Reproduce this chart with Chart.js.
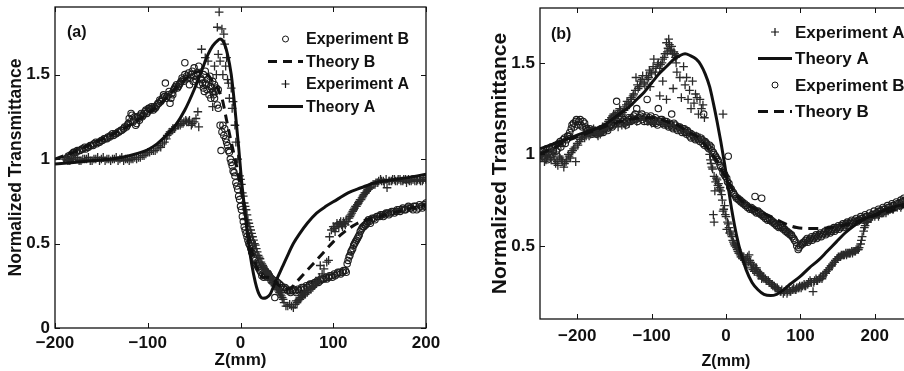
<!DOCTYPE html>
<html><head><meta charset="utf-8">
<script src="https://cdn.jsdelivr.net/npm/chart.js@4/dist/chart.umd.min.js"></script>
<style>
html,body{margin:0;padding:0;background:#fff;width:904px;height:371px;overflow:hidden;position:relative}
canvas{position:absolute;top:0}
#ca{left:0}
#cb{left:460px}
</style></head><body>
<canvas id="ca" width="440" height="371"></canvas>
<canvas id="cb" width="460" height="371"></canvas>
<script>
// ---------- Panel (a) ----------
const xTicksA = [-200, -100, 0, 100, 200];
const yTicksA = [0, 0.5, 1, 1.5];
const legendA = ['Experiment B', 'Theory B', 'Experiment A', 'Theory A'];

const expB_a = [[-188,1.0],[-185,1.02],[-182,1.03],[-179,1.04],[-176,1.05],[-173,1.05],[-170,1.06],[-167,1.06],[-164,1.07],[-161,1.08],[-158,1.09],[-155,1.09],[-152,1.1],[-149,1.11],[-146,1.12],[-143,1.13],[-140,1.14],[-137,1.14],[-134,1.15],[-131,1.16],[-128,1.17],[-125,1.19],[-122,1.2],[-120,1.24],[-118,1.27],[-116,1.22],[-114,1.25],[-112,1.21],[-110,1.24],[-108,1.26],[-106,1.25],[-104,1.27],[-102,1.29],[-100,1.28],[-98,1.3],[-96,1.31],[-94,1.29],[-92,1.3],[-90,1.32],[-88,1.33],[-86,1.34],[-84,1.36],[-82,1.37],[-81,1.45],[-80,1.36],[-78,1.38],[-76,1.33],[-74,1.39],[-72,1.41],[-70,1.43],[-68,1.42],[-66,1.44],[-64,1.46],[-62,1.47],[-60,1.57],[-60,1.5],[-58,1.49],[-56,1.51],[-55,1.44],[-54,1.48],[-52,1.52],[-50,1.49],[-50,1.54],[-48,1.47],[-46,1.5],[-45,1.55],[-44,1.44],[-42,1.47],[-40,1.42],[-40,1.5],[-38,1.45],[-38,1.52],[-36,1.41],[-35,1.47],[-34,1.38],[-33,1.49],[-32,1.43],[-32,1.36],[-30,1.4],[-30,1.46],[-28,1.36],[-28,1.44],[-26,1.42],[-25,1.32],[-24,1.3],[-24,1.41],[-22,1.2],[-21,1.05],[-20,1.16],[-18,1.14],[-16,1.12],[-14,1.08],[-12,1.04],[-10,0.98],[-8,0.93],[-6,0.9],[-4,0.84],[-2,0.78],[0,0.72],[2,0.66],[4,0.6],[6,0.56],[8,0.52],[10,0.49],[12,0.45],[14,0.42],[16,0.4],[18,0.37],[20,0.35],[22,0.33],[24,0.32],[26,0.31],[28,0.33],[30,0.32],[32,0.3],[34,0.29],[37,0.18],[38,0.28],[40,0.27],[42,0.26],[44,0.25],[46,0.24],[48,0.24],[50,0.23],[53,0.22],[56,0.22],[59,0.22],[62,0.23],[65,0.23],[68,0.24],[71,0.25],[74,0.25],[77,0.26],[80,0.27],[83,0.28],[86,0.28],[89,0.29],[92,0.3],[95,0.3],[98,0.31],[101,0.32],[104,0.32],[107,0.33],[110,0.33],[113,0.34],[115,0.38],[117,0.42],[119,0.45],[121,0.47],[123,0.5],[125,0.52],[127,0.54],[129,0.57],[131,0.59],[133,0.6],[135,0.61],[137,0.63],[139,0.63],[141,0.64],[144,0.65],[147,0.66],[150,0.66],[153,0.67],[156,0.67],[159,0.68],[162,0.68],[165,0.69],[168,0.69],[171,0.7],[174,0.7],[177,0.7],[180,0.71],[183,0.71],[186,0.7],[189,0.72],[192,0.71],[195,0.72],[198,0.73],[200,0.74]];
const expB_a2 = [[-186,1.01],[-183,1.02],[-180,1.04],[-177,1.04],[-174,1.05],[-171,1.06],[-168,1.07],[-165,1.07],[-162,1.08],[-159,1.08],[-156,1.1],[-153,1.1],[-150,1.11],[-147,1.12],[-144,1.12],[-141,1.13],[-138,1.15],[-135,1.15],[-132,1.16],[-129,1.17],[-126,1.18],[-123,1.19],[-121,1.21],[-119,1.22],[-117,1.26],[-115,1.23],[-113,1.2],[-111,1.25],[-109,1.23],[-107,1.27],[-105,1.26],[-103,1.28],[-101,1.27],[-99,1.3],[-97,1.29],[-95,1.3],[-93,1.31],[-91,1.31],[-89,1.33],[-87,1.35],[-85,1.35],[-83,1.38],[-79,1.37],[-77,1.4],[-75,1.36],[-73,1.38],[-71,1.42],[-69,1.44],[-67,1.43],[-65,1.45],[-63,1.48],[-61,1.46],[-57,1.48],[-53,1.5],[-51,1.46],[-47,1.51],[-43,1.48],[-41,1.45],[-39,1.4],[-37,1.44],[-31,1.42],[-29,1.38],[-27,1.4],[-19,1.2],[-17,1.18],[-15,1.1],[-13,1.05],[-11,1.0],[-9,0.96],[-7,0.92],[-5,0.86],[-3,0.82],[-1,0.76],[1,0.7],[3,0.63],[5,0.58],[7,0.54],[9,0.5],[11,0.47],[13,0.44],[15,0.41],[17,0.38],[19,0.36],[21,0.34],[23,0.31],[25,0.3],[27,0.32],[29,0.3],[31,0.31],[33,0.28],[43,0.24],[47,0.23],[51,0.22],[54,0.21],[57,0.23],[60,0.21],[63,0.22],[66,0.24],[69,0.23],[72,0.24],[75,0.26],[78,0.25],[81,0.27],[84,0.27],[87,0.29],[90,0.29],[93,0.29],[96,0.31],[99,0.3],[102,0.31],[105,0.33],[108,0.32],[111,0.34],[114,0.33],[116,0.4],[118,0.43],[120,0.46],[122,0.49],[124,0.51],[126,0.53],[128,0.55],[130,0.58],[132,0.6],[134,0.61],[136,0.62],[138,0.64],[140,0.62],[142,0.65],[145,0.64],[148,0.66],[151,0.67],[154,0.66],[157,0.68],[160,0.67],[163,0.69],[166,0.68],[169,0.7],[172,0.69],[175,0.71],[178,0.7],[181,0.72],[184,0.71],[187,0.72],[190,0.7],[193,0.73],[196,0.71],[199,0.72]];

const theoryB_a = [[-200,1.0],[-190,1.02],[-180,1.04],[-160,1.09],[-140,1.14],[-120,1.2],[-100,1.27],[-80,1.36],[-70,1.42],[-60,1.47],[-50,1.51],[-40,1.52],[-30,1.46],[-25,1.42],[-20,1.36],[-15,1.23],[-10,1.1],[-5,0.98],[0,0.84],[5,0.68],[10,0.52],[15,0.4],[20,0.33],[25,0.3],[30,0.3],[35,0.29],[40,0.26],[45,0.24],[50,0.23],[55,0.24],[60,0.27],[70,0.33],[80,0.39],[90,0.45],[100,0.51],[110,0.56],[120,0.6],[130,0.63],[140,0.645],[150,0.66],[170,0.69],[185,0.71],[200,0.73]];

const expA_a = [[-190,1.0],[-186,0.99],[-182,1.0],[-178,1.0],[-174,0.99],[-170,1.0],[-166,1.0],[-162,0.99],[-158,1.0],[-154,1.01],[-150,1.0],[-146,0.99],[-142,1.0],[-138,1.0],[-134,1.01],[-130,1.0],[-126,0.99],[-122,1.0],[-118,1.0],[-114,1.01],[-110,1.01],[-106,1.02],[-102,1.03],[-98,1.04],[-94,1.05],[-90,1.06],[-86,1.07],[-82,1.1],[-79,1.14],[-76,1.16],[-73,1.18],[-70,1.19],[-67,1.2],[-64,1.21],[-61,1.22],[-58,1.22],[-55,1.23],[-52,1.21],[-50,1.22],[-48,1.24],[-46,1.28],[-45,1.19],[-42,1.65],[-38,1.6],[-35,1.58],[-30,1.31],[-28,1.55],[-26,1.5],[-25,1.78],[-24,1.62],[-23,1.87],[-22,1.58],[-20,1.77],[-19,1.5],[-18,1.74],[-17,1.68],[-16,1.55],[-15,1.6],[-14,1.47],[-13,1.45],[-12,1.36],[-10,1.42],[-9,1.3],[-8,1.34],[-6,1.2],[-5,1.1],[-3,1.0],[-1,0.9],[1,0.85],[3,0.78],[5,0.72],[7,0.67],[9,0.62],[11,0.58],[13,0.54],[15,0.5],[17,0.47],[19,0.43],[21,0.41],[23,0.38],[25,0.36],[27,0.34],[29,0.33],[31,0.31],[33,0.29],[35,0.27],[37,0.25],[39,0.24],[41,0.22],[43,0.2],[45,0.18],[47,0.15],[49,0.13],[51,0.13],[53,0.14],[55,0.13],[57,0.12],[59,0.14],[61,0.15],[63,0.17],[65,0.18],[67,0.19],[69,0.2],[72,0.21],[75,0.23],[78,0.24],[81,0.26],[84,0.28],[86,0.37],[88,0.32],[90,0.35],[93,0.39],[95,0.4],[96,0.54],[98,0.58],[100,0.6],[102,0.57],[104,0.62],[106,0.6],[108,0.63],[110,0.6],[112,0.62],[114,0.64],[116,0.63],[118,0.66],[120,0.68],[122,0.7],[124,0.72],[126,0.73],[128,0.75],[130,0.76],[132,0.78],[134,0.8],[136,0.81],[138,0.82],[140,0.83],[143,0.85],[146,0.86],[149,0.87],[152,0.87],[155,0.86],[158,0.83],[161,0.87],[164,0.88],[167,0.87],[170,0.88],[173,0.87],[176,0.88],[179,0.86],[182,0.87],[185,0.88],[188,0.87],[191,0.88],[194,0.87],[197,0.88],[200,0.88]];
const expA_a2 = [[-188,1.01],[-184,0.99],[-180,1.0],[-176,1.01],[-172,0.99],[-168,1.0],[-164,1.01],[-160,0.99],[-156,1.0],[-152,0.99],[-148,1.01],[-144,1.0],[-140,0.99],[-136,1.0],[-132,0.99],[-128,1.01],[-124,1.0],[-120,0.99],[-116,1.0],[-112,1.0],[-108,1.01],[-104,1.02],[-100,1.04],[-96,1.05],[-92,1.05],[-88,1.08],[-84,1.09],[-80,1.12],[-77,1.15],[-74,1.17],[-71,1.18],[-68,1.2],[-65,1.2],[-62,1.21],[-59,1.23],[-56,1.22],[-53,1.2],[0,0.88],[2,0.8],[4,0.74],[6,0.7],[8,0.64],[10,0.6],[12,0.56],[14,0.52],[16,0.49],[18,0.45],[20,0.42],[22,0.39],[24,0.37],[26,0.35],[28,0.34],[30,0.32],[32,0.3],[34,0.28],[36,0.26],[38,0.25],[40,0.23],[42,0.21],[44,0.19],[46,0.17],[60,0.16],[62,0.16],[64,0.17],[66,0.19],[68,0.2],[70,0.2],[73,0.22],[76,0.23],[79,0.25],[82,0.27],[85,0.3],[101,0.59],[103,0.6],[105,0.61],[107,0.62],[109,0.61],[111,0.63],[113,0.61],[117,0.65],[119,0.67],[121,0.69],[123,0.71],[125,0.72],[127,0.74],[129,0.76],[131,0.77],[133,0.79],[135,0.8],[137,0.82],[139,0.83],[141,0.84],[145,0.85],[148,0.86],[151,0.88],[154,0.87],[157,0.88],[160,0.87],[163,0.87],[166,0.88],[169,0.87],[172,0.88],[175,0.87],[178,0.88],[181,0.88],[184,0.87],[187,0.88],[190,0.87],[193,0.88],[196,0.87],[199,0.89]];

const theoryA_a = [[-200,0.97],[-180,0.98],[-160,0.99],[-140,1.0],[-120,1.02],[-110,1.035],[-100,1.055],[-90,1.09],[-80,1.14],[-70,1.2],[-60,1.29],[-50,1.41],[-40,1.55],[-35,1.62],[-30,1.67],[-25,1.70],[-22,1.71],[-18,1.69],[-14,1.62],[-10,1.5],[-6,1.3],[-2,1.07],[1,0.88],[5,0.68],[8,0.53],[12,0.38],[16,0.27],[20,0.2],[24,0.176],[28,0.18],[32,0.2],[36,0.25],[40,0.3],[45,0.36],[50,0.42],[57,0.5],[64,0.56],[72,0.62],[82,0.68],[92,0.72],[104,0.76],[116,0.8],[130,0.83],[145,0.86],[160,0.875],[180,0.89],[200,0.91]];

// ---------- Panel (b) ----------
const xTicksB = [-200, -100, 0, 100, 200];
const yTicksB = [0.5, 1, 1.5];
const legendB = ['Experiment A', 'Theory A', 'Experiment B', 'Theory B'];

const expA_b = [[-250,0.98],[-247,1.0],[-244,0.96],[-241,0.99],[-238,1.02],[-235,0.97],[-232,1.0],[-229,0.95],[-226,0.94],[-223,0.98],[-220,0.96],[-217,0.95],[-214,0.97],[-211,0.99],[-208,1.01],[-205,1.03],[-202,0.96],[-199,1.05],[-196,1.08],[-193,1.1],[-190,1.09],[-187,1.12],[-184,1.1],[-181,1.13],[-178,1.14],[-175,1.12],[-172,1.1],[-169,1.11],[-166,1.15],[-163,1.14],[-160,1.16],[-157,1.19],[-154,1.2],[-151,1.22],[-148,1.21],[-145,1.23],[-142,1.24],[-139,1.23],[-136,1.26],[-133,1.29],[-130,1.27],[-127,1.31],[-124,1.33],[-121,1.42],[-118,1.36],[-115,1.4],[-112,1.43],[-109,1.38],[-106,1.41],[-103,1.46],[-100,1.44],[-97,1.52],[-94,1.47],[-91,1.5],[-88,1.49],[-85,1.52],[-82,1.55],[-80,1.61],[-78,1.58],[-76,1.6],[-74,1.57],[-72,1.55],[-70,1.56],[-68,1.53],[-66,1.54],[-102,1.37],[-89,1.32],[-85,1.4],[-80,1.3],[-71,1.36],[-66,1.45],[-62,1.42],[-60,1.31],[-57,1.48],[-55,1.38],[-53,1.42],[-51,1.3],[-49,1.35],[-47,1.25],[-45,1.4],[-43,1.28],[-41,1.33],[-39,1.31],[-37,1.22],[-35,1.3],[-33,1.25],[-31,1.27],[-29,1.2],[-4,1.22],[-140,1.16],[-130,1.17],[-120,1.18],[-110,1.2],[-100,1.17],[-90,1.18],[-80,1.16],[-70,1.16],[-60,1.14],[-50,1.12],[-40,1.1],[-30,1.08],[-25,1.05],[-22,1.0],[-20,0.95],[-18,0.92],[-16,0.88],[-14,0.85],[-17,0.67],[-16,0.63],[-15,0.8],[-12,0.86],[-10,0.84],[-8,0.82],[-6,0.78],[-4,0.69],[-2,0.72],[0,0.66],[1,0.59],[3,0.62],[5,0.57],[7,0.56],[9,0.53],[11,0.51],[13,0.5],[15,0.48],[17,0.46],[19,0.45],[21,0.44],[23,0.43],[25,0.42],[27,0.43],[29,0.44],[31,0.45],[33,0.41],[35,0.4],[37,0.39],[39,0.38],[41,0.38],[43,0.36],[45,0.35],[47,0.34],[49,0.33],[51,0.32],[53,0.32],[55,0.31],[57,0.31],[59,0.3],[61,0.29],[63,0.28],[65,0.28],[67,0.27],[69,0.27],[71,0.26],[73,0.25],[75,0.26],[77,0.24],[79,0.25],[81,0.26],[83,0.25],[85,0.26],[87,0.25],[89,0.26],[91,0.27],[93,0.26],[95,0.27],[97,0.27],[99,0.28],[101,0.27],[103,0.28],[105,0.29],[107,0.28],[109,0.29],[111,0.3],[113,0.31],[115,0.3],[117,0.25],[119,0.31],[121,0.32],[123,0.31],[125,0.32],[127,0.33],[129,0.32],[131,0.34],[133,0.35],[135,0.36],[137,0.37],[139,0.38],[141,0.39],[143,0.4],[145,0.41],[147,0.42],[149,0.43],[151,0.44],[153,0.44],[155,0.45],[157,0.45],[159,0.45],[161,0.46],[163,0.46],[165,0.46],[167,0.46],[169,0.47],[171,0.47],[173,0.47],[175,0.48],[177,0.48],[179,0.49],[181,0.51],[183,0.55],[185,0.58],[187,0.61],[189,0.63],[191,0.64],[194,0.65],[197,0.66],[200,0.66],[203,0.67],[206,0.67],[209,0.68],[212,0.68],[215,0.69],[218,0.69],[221,0.7],[224,0.7],[227,0.71],[230,0.71],[233,0.72],[236,0.72],[239,0.73],[242,0.72],[245,0.73],[248,0.74],[250,0.73]];
const expA_b2 = [[-248,0.99],[-245,1.01],[-242,0.97],[-239,1.0],[-236,0.98],[-233,1.01],[-230,0.97],[-227,0.96],[-224,0.99],[-221,0.97],[-218,0.93],[-215,0.96],[-212,1.0],[-209,0.98],[-206,1.02],[-203,1.04],[-200,1.06],[-197,1.07],[-194,1.09],[-191,1.11],[-188,1.1],[-185,1.12],[-182,1.11],[-179,1.13],[-176,1.13],[-173,1.11],[-170,1.12],[-167,1.13],[-164,1.15],[-161,1.15],[-158,1.18],[-155,1.19],[-152,1.21],[-149,1.22],[-146,1.22],[-143,1.25],[-140,1.22],[-137,1.24],[-134,1.27],[-131,1.28],[-128,1.3],[-125,1.32],[-122,1.35],[-119,1.38],[-116,1.37],[-113,1.41],[-110,1.39],[-107,1.43],[-104,1.42],[-101,1.45],[-98,1.48],[-95,1.45],[-92,1.49],[-89,1.47],[-86,1.5],[-83,1.53],[-79,1.56],[-77,1.63],[-75,1.57],[-73,1.59],[-69,1.55],[-67,1.5],[-145,1.15],[-135,1.16],[-125,1.19],[-115,1.19],[-105,1.18],[-95,1.18],[-85,1.17],[-75,1.16],[-65,1.15],[-55,1.13],[-45,1.11],[-35,1.09],[-27,1.06],[-21,0.97],[-19,0.93],[-13,0.87],[-11,0.83],[-9,0.81],[-7,0.8],[-5,0.75],[-3,0.7],[-1,0.67],[2,0.63],[4,0.6],[6,0.58],[8,0.55],[10,0.52],[12,0.5],[14,0.49],[16,0.47],[18,0.46],[20,0.44],[22,0.43],[24,0.44],[26,0.42],[28,0.4],[30,0.41],[32,0.42],[34,0.38],[36,0.37],[38,0.36],[40,0.37],[42,0.35],[44,0.34],[46,0.35],[48,0.32],[50,0.33],[54,0.31],[58,0.3],[62,0.29],[66,0.27],[70,0.26],[74,0.25],[78,0.25],[82,0.24],[86,0.25],[90,0.26],[94,0.26],[98,0.27],[102,0.28],[106,0.28],[110,0.29],[114,0.3],[118,0.3],[122,0.31],[126,0.32],[130,0.33],[134,0.35],[138,0.37],[142,0.39],[146,0.41],[150,0.43],[154,0.44],[158,0.45],[162,0.45],[166,0.46],[170,0.46],[174,0.47],[178,0.48],[182,0.53],[186,0.6],[190,0.63],[195,0.65],[200,0.67],[205,0.66],[210,0.68],[215,0.68],[220,0.7],[225,0.7],[230,0.72],[235,0.71],[240,0.72],[245,0.74],[249,0.72]];

const theoryA_b = [[-250,1.03],[-230,1.06],[-210,1.09],[-190,1.12],[-175,1.14],[-160,1.17],[-150,1.2],[-140,1.23],[-130,1.26],[-120,1.3],[-110,1.34],[-100,1.39],[-90,1.44],[-80,1.48],[-70,1.52],[-62,1.54],[-55,1.55],[-48,1.54],[-40,1.52],[-34,1.49],[-28,1.44],[-22,1.37],[-17,1.28],[-12,1.18],[-7,1.07],[-2,0.95],[3,0.82],[8,0.69],[14,0.56],[20,0.46],[27,0.37],[35,0.3],[43,0.26],[51,0.235],[60,0.228],[68,0.235],[76,0.255],[86,0.29],[99,0.33],[112,0.38],[124,0.42],[136,0.47],[148,0.52],[160,0.57],[172,0.61],[185,0.645],[200,0.67],[216,0.7],[232,0.72],[250,0.74]];

const expB_b = [[-250,1.0],[-247,1.02],[-244,0.98],[-241,1.03],[-238,1.01],[-235,1.04],[-232,1.02],[-229,1.05],[-226,1.03],[-223,1.07],[-220,1.06],[-217,1.09],[-214,1.08],[-211,1.1],[-208,1.14],[-205,1.17],[-202,1.18],[-199,1.16],[-196,1.19],[-193,1.15],[-190,1.17],[-187,1.14],[-184,1.12],[-181,1.13],[-178,1.12],[-175,1.12],[-172,1.13],[-169,1.12],[-166,1.13],[-163,1.14],[-160,1.14],[-157,1.15],[-154,1.16],[-151,1.16],[-148,1.17],[-147,1.29],[-145,1.2],[-142,1.19],[-139,1.18],[-136,1.17],[-133,1.18],[-130,1.19],[-127,1.2],[-124,1.21],[-121,1.19],[-120,1.25],[-118,1.2],[-115,1.21],[-112,1.19],[-109,1.2],[-106,1.3],[-106,1.18],[-103,1.2],[-100,1.18],[-97,1.19],[-94,1.17],[-91,1.25],[-91,1.18],[-88,1.19],[-85,1.17],[-82,1.18],[-79,1.16],[-76,1.17],[-73,1.15],[-73,1.22],[-70,1.17],[-67,1.14],[-64,1.15],[-61,1.13],[-58,1.14],[-55,1.12],[-52,1.13],[-49,1.1],[-46,1.11],[-43,1.09],[-40,1.1],[-37,1.08],[-34,1.09],[-31,1.06],[-30,1.22],[-28,1.07],[-25,1.04],[-22,1.05],[-19,1.02],[-16,1.0],[-13,0.98],[-10,0.96],[-7,0.93],[-4,0.9],[-1,0.88],[2,0.85],[3,0.99],[5,0.82],[8,0.8],[11,0.78],[14,0.76],[17,0.75],[20,0.74],[23,0.73],[26,0.72],[29,0.71],[32,0.7],[35,0.7],[38,0.69],[39,0.77],[41,0.68],[44,0.68],[47,0.67],[48,0.76],[50,0.66],[53,0.65],[56,0.64],[59,0.64],[62,0.63],[65,0.62],[68,0.61],[71,0.6],[74,0.6],[77,0.59],[80,0.58],[83,0.57],[86,0.56],[89,0.55],[92,0.53],[95,0.5],[98,0.49],[101,0.51],[104,0.52],[107,0.53],[110,0.52],[113,0.54],[116,0.53],[119,0.55],[122,0.54],[125,0.56],[128,0.55],[131,0.57],[134,0.56],[137,0.58],[140,0.57],[143,0.59],[146,0.58],[149,0.6],[152,0.59],[155,0.61],[158,0.6],[161,0.62],[164,0.61],[167,0.63],[170,0.62],[173,0.64],[176,0.63],[179,0.64],[182,0.65],[185,0.64],[188,0.66],[191,0.65],[194,0.66],[197,0.67],[200,0.67],[203,0.68],[206,0.69],[209,0.68],[212,0.7],[215,0.69],[218,0.71],[221,0.7],[224,0.72],[227,0.71],[230,0.73],[233,0.72],[236,0.74],[239,0.76],[242,0.73],[245,0.75],[248,0.74],[250,0.76]];
const expB_b2 = [[-249,1.02],[-246,0.99],[-243,1.01],[-240,0.97],[-237,1.03],[-234,1.0],[-231,1.04],[-228,1.02],[-225,1.06],[-222,1.04],[-219,1.08],[-216,1.06],[-213,1.1],[-210,1.12],[-207,1.16],[-204,1.15],[-201,1.19],[-198,1.18],[-195,1.16],[-192,1.18],[-189,1.15],[-186,1.13],[-183,1.14],[-180,1.11],[-177,1.13],[-174,1.11],[-171,1.12],[-168,1.14],[-165,1.12],[-162,1.15],[-159,1.13],[-156,1.16],[-153,1.15],[-150,1.17],[-146,1.18],[-143,1.17],[-140,1.2],[-137,1.19],[-134,1.16],[-131,1.2],[-128,1.18],[-125,1.19],[-122,1.22],[-119,1.18],[-116,1.2],[-113,1.22],[-110,1.18],[-107,1.21],[-104,1.19],[-101,1.21],[-98,1.17],[-95,1.2],[-92,1.16],[-89,1.18],[-86,1.19],[-83,1.16],[-80,1.18],[-77,1.15],[-74,1.16],[-71,1.14],[-68,1.16],[-65,1.13],[-62,1.15],[-59,1.12],[-56,1.14],[-53,1.11],[-50,1.12],[-47,1.09],[-44,1.1],[-41,1.08],[-38,1.09],[-35,1.07],[-32,1.08],[-29,1.05],[-26,1.06],[-23,1.03],[-20,1.04],[-17,1.01],[-14,0.99],[-11,0.97],[-8,0.94],[-5,0.92],[-2,0.89],[1,0.87],[4,0.84],[7,0.81],[10,0.79],[13,0.77],[16,0.76],[19,0.75],[22,0.74],[25,0.73],[28,0.72],[31,0.71],[34,0.71],[37,0.7],[40,0.69],[43,0.69],[46,0.68],[49,0.67],[52,0.66],[55,0.65],[58,0.65],[61,0.64],[64,0.63],[67,0.62],[70,0.61],[73,0.61],[76,0.6],[79,0.59],[82,0.58],[85,0.57],[88,0.56],[91,0.54],[94,0.52],[97,0.48],[100,0.5],[103,0.51],[106,0.52],[109,0.54],[112,0.53],[115,0.55],[118,0.54],[121,0.56],[124,0.55],[127,0.57],[130,0.56],[133,0.58],[136,0.57],[139,0.59],[142,0.58],[145,0.6],[148,0.59],[151,0.61],[154,0.6],[157,0.62],[160,0.61],[163,0.63],[166,0.62],[169,0.64],[172,0.63],[175,0.65],[178,0.64],[181,0.66],[184,0.65],[187,0.67],[190,0.66],[193,0.68],[196,0.67],[199,0.69],[202,0.68],[205,0.7],[208,0.69],[211,0.71],[214,0.7],[217,0.72],[220,0.71],[223,0.73],[226,0.72],[229,0.74],[232,0.73],[235,0.75],[238,0.74],[241,0.75],[244,0.74],[247,0.76]];

const theoryB_b = [[-250,1.0],[-230,1.04],[-210,1.08],[-190,1.11],[-170,1.14],[-150,1.17],[-130,1.19],[-110,1.2],[-95,1.2],[-80,1.18],[-65,1.16],[-50,1.12],[-40,1.1],[-30,1.06],[-20,1.01],[-10,0.95],[0,0.87],[10,0.8],[20,0.75],[35,0.71],[50,0.68],[65,0.65],[80,0.62],[95,0.6],[110,0.595],[125,0.595],[140,0.6],[155,0.61],[170,0.625],[185,0.645],[200,0.665],[220,0.69],[240,0.715],[250,0.73]];

// ---------- helpers ----------
const FONT = '"Liberation Sans", Arial, Helvetica, sans-serif';
const toXY = arr => arr.map(p => ({x: p[0], y: p[1]}));
const fmt = v => (v < 0 ? '\u2212' + Math.abs(v) : String(v));

function circleSet(label, data) {
  return {label, data: toXY(data), showLine: false, pointStyle: 'circle', pointRadius: 3.2,
    pointBorderWidth: 1.1, pointBorderColor: '#1c1c1c', pointBackgroundColor: 'rgba(0,0,0,0)', order: 3};
}
function plusSet(label, data) {
  return {label, data: toXY(data), showLine: false, pointStyle: 'cross', pointRadius: 4.3,
    pointBorderWidth: 1.3, pointBorderColor: '#2a2a2a', pointBackgroundColor: '#2a2a2a', order: 2};
}
function lineSet(label, data, dash, order) {
  return {label, data: toXY(data), showLine: true, pointRadius: 0, borderColor: '#111',
    borderWidth: 3, borderDash: dash, cubicInterpolationMode: 'monotone', order};
}

function framePlugin(cfg) {
  return {
    id: 'frame' + cfg.tag,
    afterDraw(chart) {
      const {ctx, chartArea: a, scales: {x, y}} = chart;
      ctx.save();
      ctx.strokeStyle = '#111';
      ctx.lineWidth = 1.3;
      ctx.strokeRect(a.left, a.top, a.right - a.left, a.bottom - a.top);
      ctx.lineWidth = 1;
      const L = 5;
      cfg.xt.forEach(v => {
        const px = Math.round(x.getPixelForValue(v)) + 0.5;
        ctx.beginPath();
        ctx.moveTo(px, a.bottom); ctx.lineTo(px, a.bottom - L);
        ctx.moveTo(px, a.top); ctx.lineTo(px, a.top + L);
        ctx.stroke();
      });
      cfg.yt.forEach(v => {
        const py = Math.round(y.getPixelForValue(v)) + 0.5;
        ctx.beginPath();
        ctx.moveTo(a.left, py); ctx.lineTo(a.left + L, py);
        ctx.moveTo(a.right, py); ctx.lineTo(a.right - L, py);
        ctx.stroke();
      });
      ctx.fillStyle = '#111';
      ctx.font = 'bold 16px ' + FONT;
      ctx.textBaseline = 'middle';
      ctx.textAlign = 'left';
      ctx.fillText(cfg.panel, a.left + cfg.panelDx, a.top + cfg.panelDy);
      const ds = chart.data.datasets;
      cfg.legend.forEach((name, i) => {
        const d = ds.find(s => s.label === name);
        const yy = a.top + cfg.legY0 + i * cfg.legDy;
        const x0 = a.left + cfg.legX0, x1 = x0 + cfg.legW;
        ctx.strokeStyle = '#111';
        if (d.showLine) {
          ctx.lineWidth = 3;
          ctx.setLineDash(d.borderDash || []);
          ctx.beginPath(); ctx.moveTo(x0, yy); ctx.lineTo(x1, yy); ctx.stroke();
          ctx.setLineDash([]);
        } else if (d.pointStyle === 'circle') {
          ctx.lineWidth = 1;
          ctx.beginPath(); ctx.arc((x0 + x1) / 2, yy, 3, 0, Math.PI * 2); ctx.stroke();
        } else {
          ctx.lineWidth = 1.2;
          const cx = (x0 + x1) / 2;
          ctx.beginPath(); ctx.moveTo(cx - 4, yy); ctx.lineTo(cx + 4, yy);
          ctx.moveTo(cx, yy - 4); ctx.lineTo(cx, yy + 4); ctx.stroke();
        }
        ctx.fillStyle = '#111';
        ctx.font = 'bold ' + cfg.legFont + 'px ' + FONT;
        ctx.fillText(name, x1 + 3, yy + 1);
      });
      ctx.restore();
    }
  };
}

function makeChart(id, o) {
  return new Chart(document.getElementById(id), {
    type: 'scatter',
    data: {datasets: o.datasets},
    options: {
      responsive: false, animation: false, devicePixelRatio: 1,
      layout: {padding: o.pad},
      plugins: {legend: {display: false}, tooltip: {enabled: false}},
      scales: {
        x: {
          type: 'linear', min: o.xmin, max: o.xmax,
          afterBuildTicks: s => { s.ticks = o.xt.map(v => ({value: v})); },
          afterFit: s => { s.height = o.xh; s.paddingLeft = 0; s.paddingRight = 0; },
          grid: {display: false, drawTicks: false}, border: {display: false},
          ticks: {padding: o.xtPad, color: '#111', font: {family: FONT, size: 17, weight: 'bold'}, callback: v => fmt(v), maxRotation: 0, autoSkip: false},
          title: {display: true, text: 'Z(mm)', color: '#111', padding: {top: 0, bottom: o.xTitleBottom}, font: {family: FONT, size: o.xTitleSize, weight: 'bold'}}
        },
        y: {
          type: 'linear', min: o.ymin, max: o.ymax,
          afterBuildTicks: s => { s.ticks = o.yt.map(v => ({value: v})); },
          afterFit: s => { s.width = o.yw; s.paddingTop = 0; s.paddingBottom = 0; },
          grid: {display: false, drawTicks: false}, border: {display: false},
          ticks: {padding: 5, color: '#111', font: {family: FONT, size: 17, weight: 'bold'}, callback: v => fmt(v), autoSkip: false},
          title: {display: true, text: 'Normalized Transmittance', color: '#111', padding: {top: o.yTitleTop, bottom: 0}, font: {family: FONT, size: o.yTitleSize, weight: 'bold'}}
        }
      }
    },
    plugins: [framePlugin(o.frame)]
  });
}

makeChart('ca', {
  datasets: [
    lineSet('Theory A', theoryA_a, [], 0),
    lineSet('Theory B', theoryB_a, [9, 6], 1),
    plusSet('Experiment A', expA_a.concat(expA_a2)),
    circleSet('Experiment B', expB_a.concat(expB_a2))
  ],
  pad: {left: 0, right: 14, top: 7, bottom: 0},
  xmin: -200, xmax: 200, ymin: 0, ymax: 1.9,
  xt: xTicksA, yt: yTicksA, xh: 43, yw: 55, xtPad: 5,
  xTitleBottom: 0, xTitleSize: 17, yTitleTop: 6, yTitleSize: 17.5,
  frame: {tag: 'a', xt: xTicksA, yt: yTicksA, panel: '(a)', panelDx: 12, panelDy: 26,
    legend: legendA, legX0: 213, legW: 35, legY0: 32, legDy: 22.5, legFont: 16}
});

makeChart('cb', {
  datasets: [
    lineSet('Theory A', theoryA_b, [], 0),
    lineSet('Theory B', theoryB_b, [10, 6], 1),
    plusSet('Experiment A', expA_b.concat(expA_b2)),
    circleSet('Experiment B', expB_b.concat(expB_b2))
  ],
  pad: {left: 0, right: 8, top: 8, bottom: 0},
  xmin: -250, xmax: 250, ymin: 0.1, ymax: 1.8,
  xt: xTicksB, yt: yTicksB, xh: 52, yw: 80, xtPad: 7,
  xTitleBottom: 0, xTitleSize: 16, yTitleTop: 28, yTitleSize: 21,
  frame: {tag: 'b', xt: xTicksB, yt: yTicksB, panel: '(b)', panelDx: 11, panelDy: 27,
    legend: legendB, legX0: 218, legW: 34, legY0: 24, legDy: 26.5, legFont: 17}
});
</script>
</body></html>
